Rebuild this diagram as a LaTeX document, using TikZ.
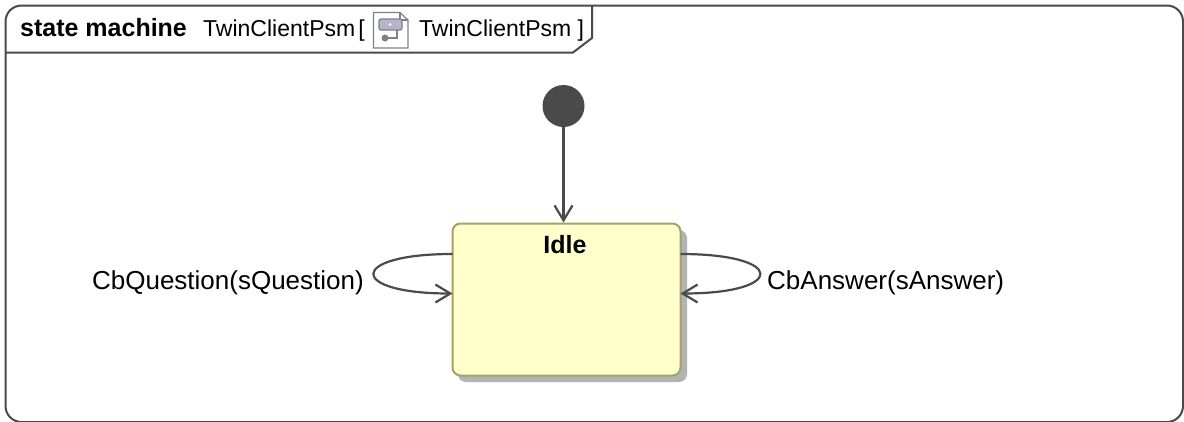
\documentclass[tikz,border=0pt]{standalone}
\usepackage{fontspec}
\setmainfont{Liberation Sans}
\usetikzlibrary{arrows.meta}
\definecolor{framecol}{HTML}{4A4A4A}
\definecolor{idlefill}{HTML}{FFFFCC}
\definecolor{idleline}{HTML}{A3A366}
\definecolor{shadowcol}{HTML}{B3B3B3}
\definecolor{iconline}{HTML}{808088}
\definecolor{iconfill}{HTML}{B4B4CC}
\tikzset{
  frameline/.style={draw=framecol, line width=2pt},
  trans/.style={draw=framecol, line width=2.2pt, ->, >={Straight Barb[length=15pt,width=18pt]}},
  headtxt/.style={font=\fontsize{23}{28}\selectfont, anchor=base west, inner sep=0pt, text=black},
  txt/.style={font=\fontsize{26}{30}\selectfont, anchor=base, inner sep=0pt, text=black}
}
\begin{document}
\begin{tikzpicture}[x=1pt,y=-1pt]
  \useasboundingbox (0,0) rectangle (1184,421);

  % frame and its tab
  \draw[frameline, rounded corners=16pt] (5.5,5.5) rectangle (1183,422);
  \draw[frameline] (5.5,52.5) -- (573,52.5) -- (592,38) -- (592,5.5);
  \node[headtxt, font=\fontsize{25}{28}\selectfont\bfseries] (kind) at (20,36) {state machine};
  \node[headtxt] (name) at (203,36) {TwinClientPsm\kern3pt[};
  \node[headtxt] (ref) at (419,36) {TwinClientPsm ]};

  % diagram icon
  \draw[iconline, fill=white, line width=1.2pt] (373.5,12.5) -- (400,12.5) -- (408,20) -- (408,48) -- (373.5,48) -- cycle;
  \draw[iconline, line width=1.2pt] (400,12.5) -- (400,20) -- (408,20);
  \draw[iconline, fill=iconfill, line width=1.2pt, rounded corners=2pt] (379,19) rectangle (402,30);
  \draw[iconline, line width=1.2pt] (397,30) -- (397,38) -- (385,38);
  \fill[iconline] (385,38) circle (3.5pt);
  \fill[white] (390,24.5) circle (1.5pt);

  % states
  \node[circle, fill=framecol, minimum size=42pt, inner sep=0pt] (start) at (563.5,106) {};
  \fill[shadowcol, rounded corners=8pt] (458,230) rectangle (687,382);
  \node[draw=idleline, fill=idlefill, line width=2pt, rounded corners=8pt, minimum width=228pt, minimum height=152pt, inner sep=0pt] (idle) at (566.5,299.5) {};
  \node[txt, font=\fontsize{25}{30}\selectfont\bfseries] (idletxt) at (565,253) {Idle};

  \coordinate (lout) at (452.5,254);
  \coordinate (lin) at (452.5,293.5);
  \coordinate (rout) at (680.5,254);
  \coordinate (rin) at (680.5,293.5);

  \draw[trans] (start) -- (idle.north -| start);
  \draw[trans] (lout) .. controls (347.5,254) and (347.5,293.5) .. (lin);
  \draw[trans] (rout) .. controls (786.5,254) and (786.5,293.5) .. (rin);

  \node[txt, anchor=base east] (lbl) at (364,289) {CbQuestion(sQuestion)};
  \node[txt, anchor=base west] (rbl) at (767,289) {CbAnswer(sAnswer)};
\end{tikzpicture}
\end{document}
